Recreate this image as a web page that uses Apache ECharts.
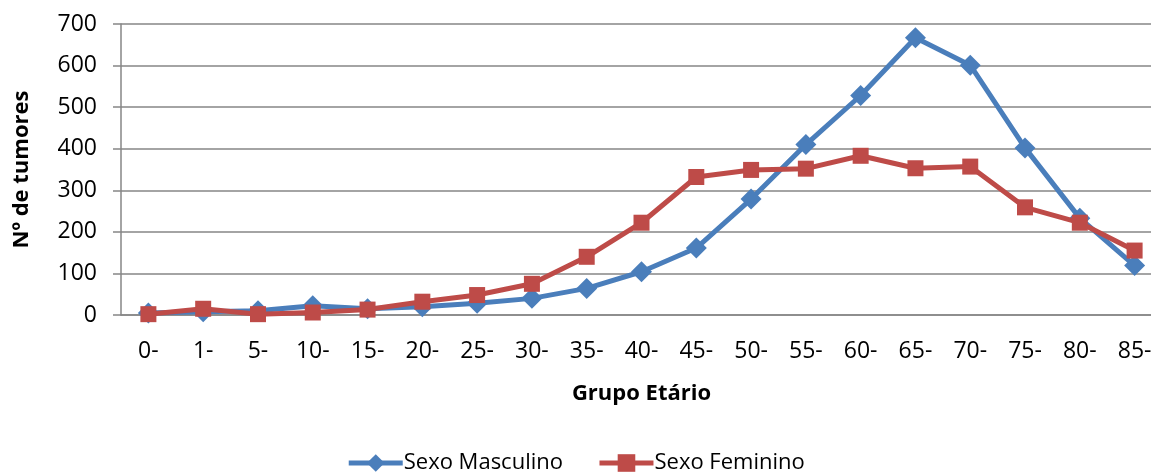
<!DOCTYPE html>
<html><head><meta charset="utf-8">
<script src="https://cdn.jsdelivr.net/npm/echarts@6/dist/echarts.min.js"></script>
<style>html,body{margin:0;padding:0;background:#fff}#c{width:1151px;height:472px}</style>
</head><body><div id="c"></div>
<script>
const categories = ['0-','1-','5-','10-','15-','20-','25-','30-','35-','40-','45-','50-','55-','60-','65-','70-','75-','80-','85-'];
const masculino = [5, 8, 10, 22, 15, 20, 28, 40, 64, 104, 161, 279, 410, 528, 667, 601, 402, 233, 119];
const feminino  = [2, 15, 2, 6, 13, 32, 48, 75, 140, 222, 332, 349, 352, 383, 353, 357, 259, 222, 155];
const yTicks = [0, 100, 200, 300, 400, 500, 600, 700];

const FONT = 'Open Sans';
const chart = echarts.init(document.getElementById('c'), null, {renderer:'canvas'});
chart.setOption({
  animation: false,
  backgroundColor: '#fff',
  textStyle: {fontFamily: FONT},
  grid: {left: 121, width: 1041, top: 24, height: 291, containLabel: false, outerBoundsMode: 'none'},
  legend: {
    top: 447, left: 'center', itemWidth: 54, itemHeight: 22, itemGap: 34,
    lineStyle: {width: 5},
    textStyle: {fontFamily: FONT, fontSize: 22, color: '#000', padding: [0,0,0,-4]},
    data: ['Sexo Masculino', 'Sexo Feminino']
  },
  xAxis: {
    type: 'category', data: categories, boundaryGap: true,
    name: 'Grupo Etário', nameLocation: 'middle', nameGap: 68,
    nameTextStyle: {fontFamily: FONT, fontWeight: 'bold', fontSize: 22, color: '#000'},
    axisLine: {lineStyle: {color: '#868686', width: 1.5}},
    axisTick: {show: false},
    axisLabel: {fontFamily: FONT, fontSize: 23, color: '#000', margin: 25}
  },
  yAxis: {
    type: 'value', min: yTicks[0], max: yTicks[yTicks.length-1], interval: 100,
    name: 'Nº de tumores', nameLocation: 'middle', nameGap: 88, nameRotate: 90,
    nameTextStyle: {fontFamily: FONT, fontWeight: 'bold', fontSize: 22, color: '#000'},
    axisLine: {show: true, lineStyle: {color: '#868686', width: 1.5}},
    axisTick: {show: true, length: 8, lineStyle: {color: '#868686', width: 1.5}},
    axisLabel: {fontFamily: FONT, fontSize: 23, color: '#000', margin: 24},
    splitLine: {lineStyle: {color: '#868686', width: 1.5}}
  },
  series: [
    {name: 'Sexo Masculino', type: 'line', data: masculino, symbol: 'diamond', symbolSize: 21,
     lineStyle: {color: '#4A7EBB', width: 5}, itemStyle: {color: '#4A7EBB'}, z: 2},
    {name: 'Sexo Feminino', type: 'line', data: feminino, symbol: 'rect', symbolSize: 16,
     lineStyle: {color: '#BE4B48', width: 5}, itemStyle: {color: '#BE4B48'}, z: 3}
  ]
});
</script></body></html>
